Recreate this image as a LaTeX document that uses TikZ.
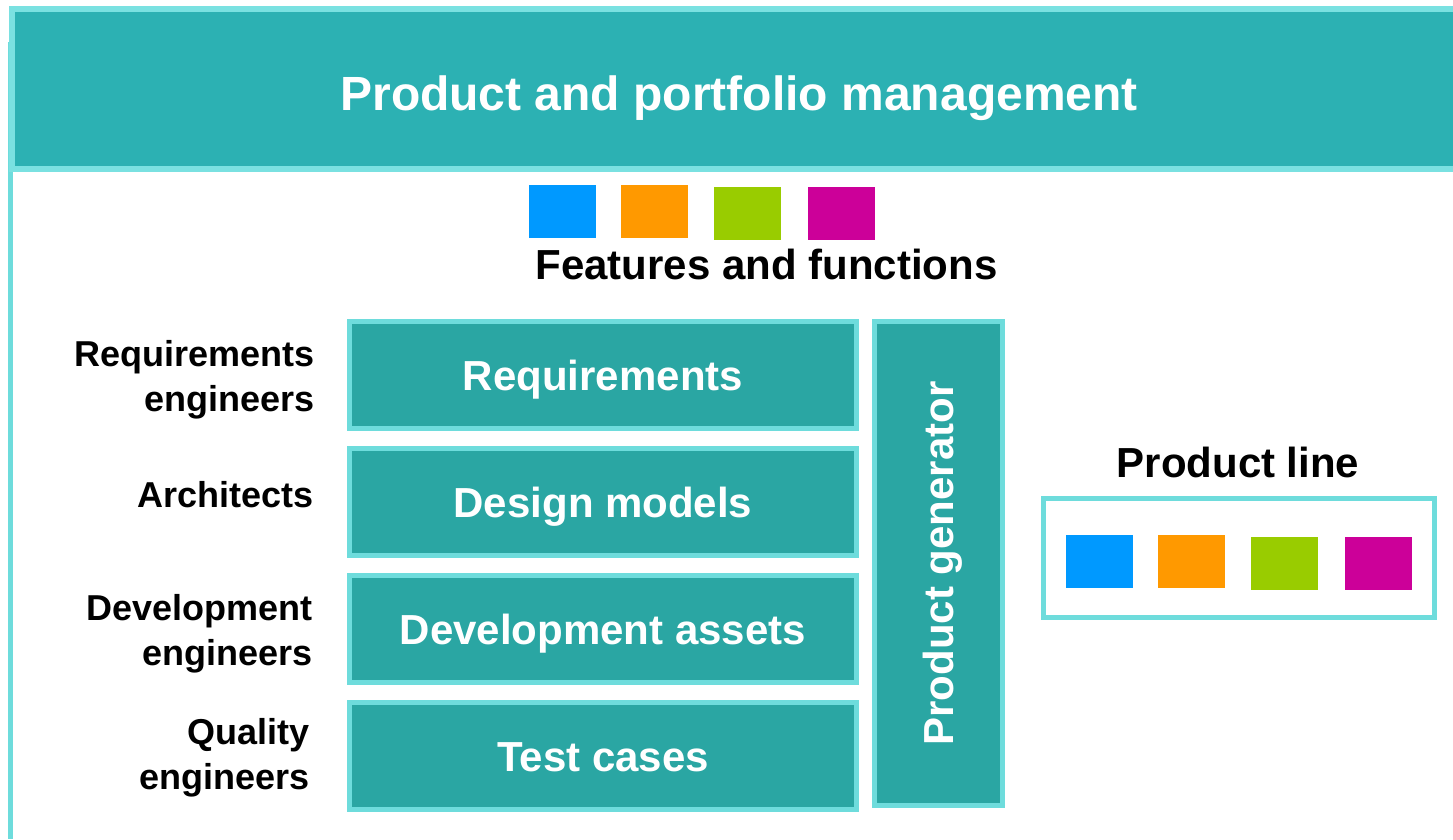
\documentclass[tikz,border=0pt]{standalone}
\usepackage{fontspec}
\setmainfont{Liberation Sans}
\usetikzlibrary{positioning}
\definecolor{headfill}{HTML}{2CB1B3}
\definecolor{tealfill}{HTML}{2AA6A3}
\definecolor{lightcyan}{HTML}{6EDCDC}
\definecolor{headline}{HTML}{7AE1E1}
\definecolor{sqblue}{HTML}{0099FF}
\definecolor{sqorange}{HTML}{FF9900}
\definecolor{sqgreen}{HTML}{99CC00}
\definecolor{sqmagenta}{HTML}{CC0099}
\tikzset{tealbox/.style={rectangle, fill=tealfill, draw=lightcyan, line width=5pt, outer sep=0pt, minimum width=507pt, minimum height=107pt, text=white, font=\fontsize{42}{44}\selectfont\bfseries, text height=30pt, text depth=0pt},
swatch/.style={rectangle, minimum width=67pt, minimum height=53pt, inner sep=0pt, outer sep=0pt}}

\begin{document}
\begin{tikzpicture}[
        x=1pt, y=-1pt,
        headbar/.style={rectangle, fill=headfill, draw=headline, line width=6pt, outer sep=0pt, minimum width=1454pt, minimum height=160pt, text=white, font=\fontsize{48}{50}\selectfont\bfseries},
        rolelabel/.style={font=\fontsize{36}{45}\selectfont\bfseries, align=right, anchor=base east, inner sep=0pt},
        titlelabel/.style={font=\fontsize{42}{44}\selectfont\bfseries, anchor=base, inner sep=0pt}
    ]
        \useasboundingbox (0,0) rectangle (1453,839);
        % Frame
        \draw[lightcyan, line width=5pt] (10.5,42) -- (10.5,839);
        \node[headbar, text height=42pt, text depth=0pt] (head) at (739,89) {Product and portfolio management};
        % Features
        \foreach \name/\col/\x/\y in {
            fblue/sqblue/562.5/211.5,
            forange/sqorange/654.5/211.5,
            fgreen/sqgreen/747.5/213.5,
            fmagenta/sqmagenta/841.5/213.5} {
            \node[swatch, fill=\col] (\name) at (\x,\y) {};
        }
        \node[titlelabel] (feat) at (766.5,279) {Features and functions};
        % Assets
        \node[tealbox] (req) at (603,375) {Requirements};
        \node[tealbox, below=20pt of req] (design) {Design models};
        \node[tealbox, below=20pt of design] (dev) {Development assets};
        \node[tealbox, below=20pt of dev] (test) {Test cases};
        \node[tealbox, rotate=90, minimum width=484pt, minimum height=128pt] (gen) at (938.5,563.5) {Product generator};
        % Roles
        \node[rolelabel] (reqeng) at (315,411) {Requirements\\engineers};
        \node[rolelabel] (arch) at (314,507) {Architects};
        \node[rolelabel] (deveng) at (313,665) {Development\\engineers};
        \node[rolelabel] (qualeng) at (310,789) {Quality\\engineers};
        % Product line
        \node[titlelabel] (plabel) at (1238,477) {Product line};
        \node[rectangle, draw=lightcyan, line width=5pt, outer sep=0pt, minimum width=391pt, minimum height=119pt] (pline) at (1239,558) {};
        \foreach \name/\col/\x/\y in {
            pblue/sqblue/1099.5/561.5,
            porange/sqorange/1191.5/561.5,
            pgreen/sqgreen/1284.5/563.5,
            pmagenta/sqmagenta/1378.5/563.5} {
            \node[swatch, fill=\col] (\name) at (\x,\y) {};
        }
    \end{tikzpicture}
\end{document}
